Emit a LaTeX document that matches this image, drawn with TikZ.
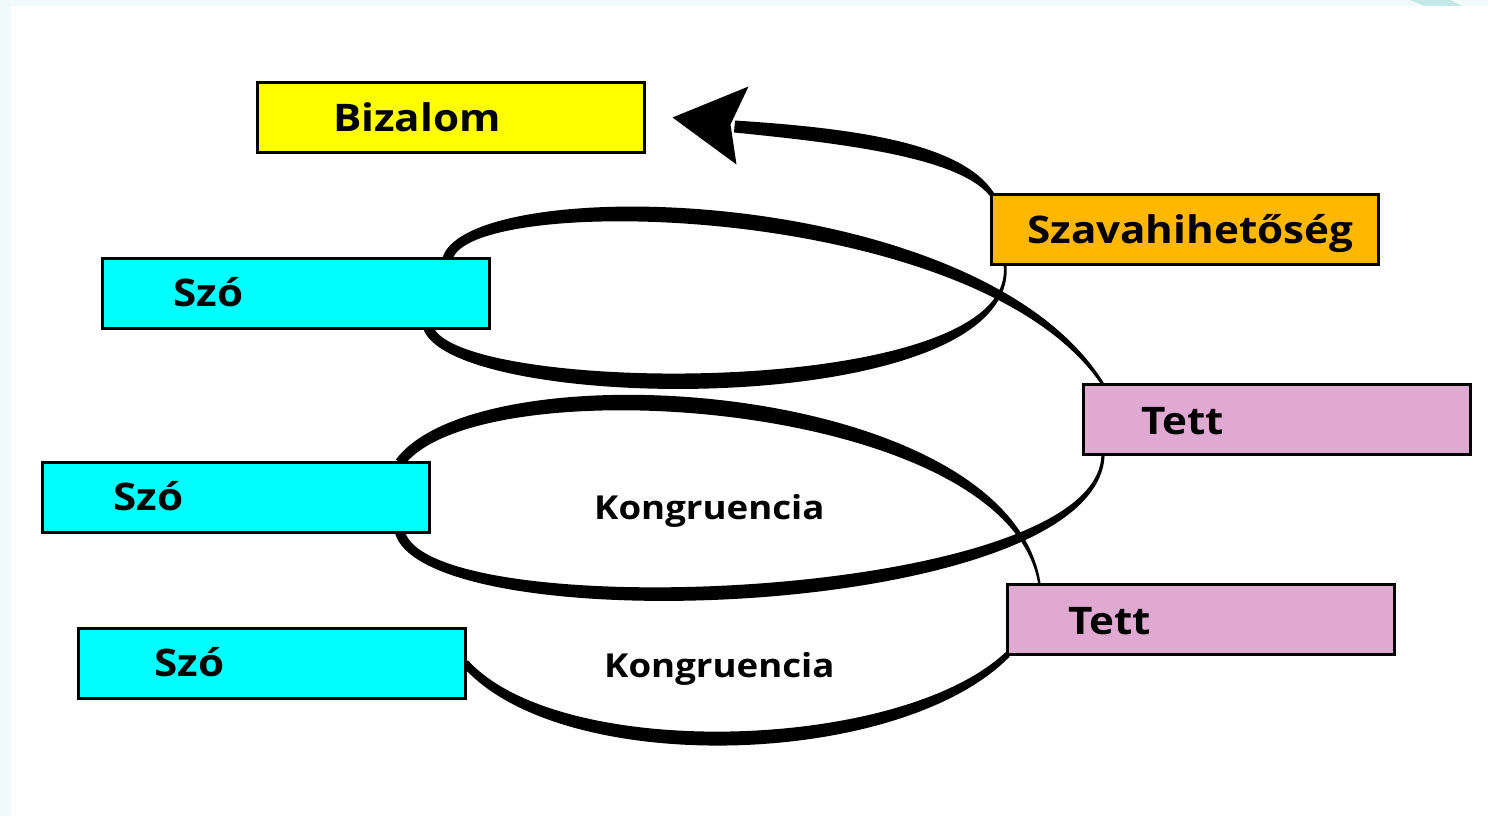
\documentclass[tikz,border=0pt]{standalone}
\usepackage{fontspec}
\setmainfont[FakeStretch=1.11]{Open Sans}
\usetikzlibrary{calc}
\definecolor{bzyellow}{HTML}{FFFF00}
\definecolor{bzorange}{HTML}{FFB700}
\definecolor{bzcyan}{HTML}{00FFFF}
\definecolor{bzpink}{HTML}{DFA9D2}
\definecolor{bzframe}{HTML}{F1FAFA}
\definecolor{bzswoosh}{HTML}{C4E8E8}
% tapered bezier: #1 P0, #2 C1, #3 C2, #4 P3, #5 w0, #6 wc, #7 w3
\newcommand\taperline[7]{%
  \coordinate (tpA) at ($(#1)!#5!90:(#2)$);
  \coordinate (tpa) at ($(#1)!#5!-90:(#2)$);
  \coordinate (tpB) at ($(#2)!#6!90:(#3)$);
  \coordinate (tpb) at ($(#2)!#6!-90:(#3)$);
  \coordinate (tpC) at ($(#3)!#6!-90:(#2)$);
  \coordinate (tpc) at ($(#3)!#6!90:(#2)$);
  \coordinate (tpD) at ($(#4)!#7!-90:(#3)$);
  \coordinate (tpd) at ($(#4)!#7!90:(#3)$);
  \fill (tpA) .. controls (tpB) and (tpC) .. (tpD) -- (tpd)
        .. controls (tpc) and (tpb) .. (tpa) -- cycle;
}
\begin{document}
\begin{tikzpicture}[x=1pt,y=-1pt,
  box/.style={draw=black,line width=3pt,fill=#1,minimum width=384pt,
              minimum height=67pt,inner sep=0pt},
  lbl/.style={anchor=base west,inner sep=0pt,
              font=\bfseries\fontsize{38}{40}\selectfont},
  klbl/.style={anchor=base west,inner sep=0pt,
              font=\bfseries\fontsize{33}{35}\selectfont}]
\useasboundingbox (0,0) rectangle (1488,816);
\fill[bzframe] (0,0) rectangle (1488,816);
\fill[white] (11,6) rectangle (1488,816);
\fill[bzswoosh] (1410,0) -- (1450,0) -- (1462,6) -- (1424,6) -- cycle;

% box nodes (positions)
\path node[box=bzyellow] (biz)  at (451,117.5) {}
      node[box=bzorange] (szav) at (1184.5,229.5) {}
      node[box=bzcyan]   (szo1) at (296,293.5) {}
      node[box=bzpink]   (tett1) at (1276.5,419.5) {}
      node[box=bzcyan]   (szo2) at (235.5,497.5) {}
      node[box=bzpink]   (tett2) at (1201,619.5) {}
      node[box=bzcyan]   (szo3) at (271.5,663) {};

% connector end points
\coordinate (l1a) at ($(szo1.north east)+(-42,0)$);
\coordinate (l1b) at ($(tett1.north west)+(20,0)$);
\coordinate (l1c) at ($(szo1.south east)+(-61,0)$);
\coordinate (l1d) at ($(szav.south west)+(14,0)$);
\coordinate (l2a) at ($(tett2.north west)+(32,0)$);
\coordinate (l2b) at ($(szo2.north east)+(-29,0)$);
\coordinate (l2c) at ($(szo2.south east)+(-29,0)$);
\coordinate (l2d) at ($(tett1.south west)+(20,0)$);
\coordinate (l3a) at (szo3.east);
\coordinate (l3b) at (tett2.south west);
\coordinate (ara) at ($(szav.north west)+(1,0)$);
\coordinate (tip) at ($(biz.east)+(28,0)$);
\coordinate (arb) at ($(tip)+(62,9)$);

% control points
\coordinate (k1) at (470,182);  \coordinate (k2) at (980,192);
\coordinate (k3) at (460,405);  \coordinate (k4) at (1020,410);
\coordinate (k5) at (1010,390); \coordinate (k6) at (480,355);
\coordinate (k7) at (430,635);  \coordinate (k8) at (1100,610);
\coordinate (k9) at (560,770);  \coordinate (k10) at (900,760);
\coordinate (k11) at (960,150); \coordinate (k12) at (850,136);

% spiral
\taperline{l1a}{k1}{k2}{l1b}{5pt}{10pt}{1.5pt}
\taperline{l1c}{k3}{k4}{l1d}{5pt}{10pt}{1.5pt}
\taperline{l2a}{k5}{k6}{l2b}{1.2pt}{10pt}{5pt}
\taperline{l2c}{k7}{k8}{l2d}{5pt}{9pt}{1.6pt}
\taperline{l3a}{k9}{k10}{l3b}{4pt}{8.5pt}{3pt}
\taperline{ara}{k11}{k12}{arb}{2.5pt}{8pt}{6pt}
% arrow head
\fill (tip) -- ($(tip)+(76,-31)$) -- ($(tip)+(58,7)$)
      -- ($(tip)+(64,47)$) -- cycle;

% boxes redrawn on top
\foreach \n/\c in {biz/bzyellow,szav/bzorange,szo1/bzcyan,tett1/bzpink,szo2/bzcyan,tett2/bzpink,szo3/bzcyan}
  \draw[line width=3pt,fill=\c] (\n.north west) rectangle (\n.south east);

% labels
\node[lbl] (tbiz) at (333,131) {Bizalom};
\node[lbl] (tszav) at (1027,243) {Szavahihetőség};
\node[lbl] (tszo1) at (173,306.5) {Szó};
\node[lbl] (ttett1) at (1141,434) {Tett};
\node[lbl] (tszo2) at (113,510.5) {Szó};
\node[klbl] (kong1) at (594,519) {Kongruencia};
\node[lbl] (ttett2) at (1068,634) {Tett};
\node[lbl] (tszo3) at (154,676) {Szó};
\node[klbl] (kong2) at (604,677) {Kongruencia};
\end{tikzpicture}
\end{document}
